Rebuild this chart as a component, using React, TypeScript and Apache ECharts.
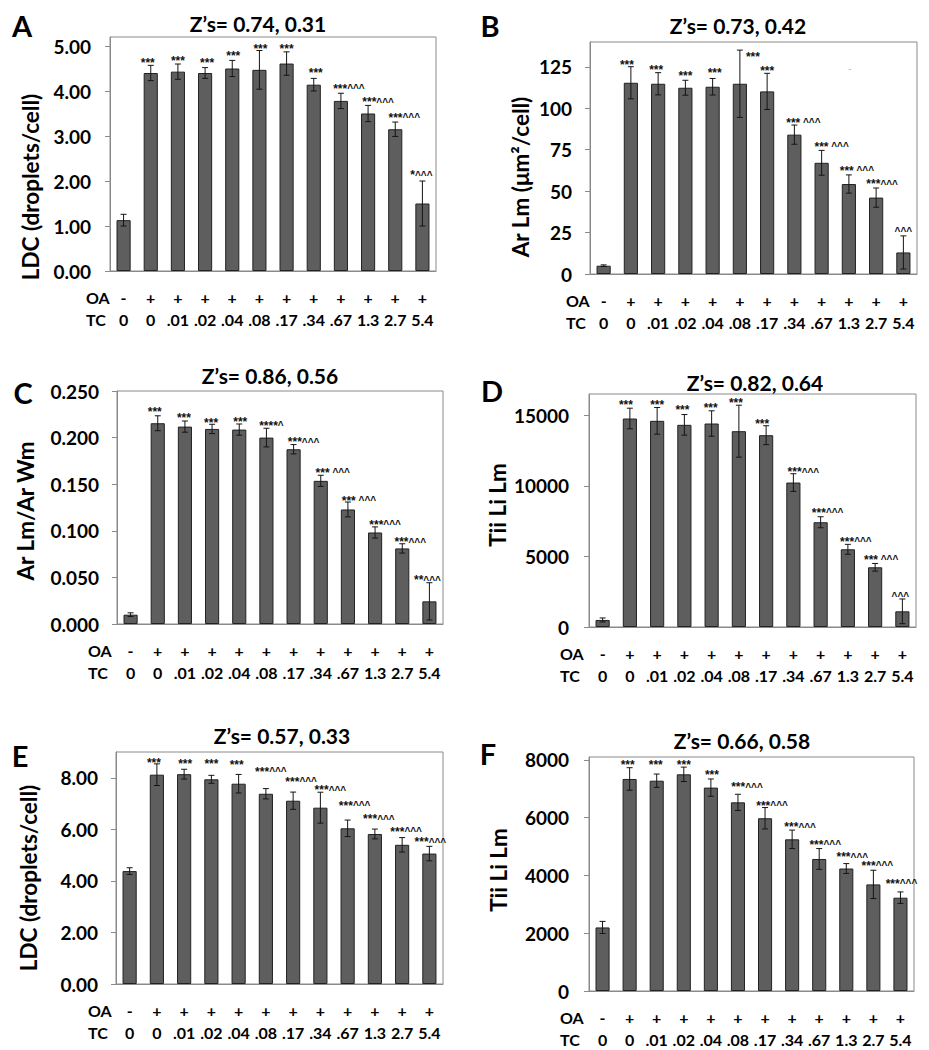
import React, { useEffect, useRef } from "react";
import * as echarts from "echarts";

// ---------- shared categories ----------
const oaRow = ["-", "+", "+", "+", "+", "+", "+", "+", "+", "+", "+", "+"];
const tcRow = ["0", "0", ".01", ".02", ".04", ".08", ".17", ".34", ".67", "1.3", "2.7", "5.4"];

// ---------- Panel A: LDC (droplets/cell) ----------
const valuesA = [1.13, 4.4, 4.43, 4.4, 4.5, 4.47, 4.61, 4.14, 3.78, 3.5, 3.15, 1.5];
const errorsA = [0.13, 0.17, 0.17, 0.12, 0.18, 0.43, 0.26, 0.14, 0.17, 0.18, 0.16, 0.5];
const sigA = ["", "***", "***", "***", "***", "***", "***", "***", "***^^^", "***^^^", "***^^^", "*^^^"];
const sigYA = [null, 4.7, 4.74, 4.68, 4.84, 5.01, 4.99, 4.46, 4.12, 3.82, 3.47, 2.19];
const ticksA = [0, 1, 2, 3, 4, 5];

// ---------- Panel B: Ar Lm ----------
const valuesB = [5.0, 115.4, 114.8, 112.4, 113.0, 114.8, 110.2, 84.1, 67.1, 54.3, 46.1, 13.0];
const errorsB = [0.5, 9.7, 6.7, 4.5, 5.0, 20.3, 10.9, 5.8, 7.5, 5.5, 5.8, 10.0];
const sigB = ["", "***", "***", "***", "***", "***", "***", "*** ^^^", "*** ^^^", "*** ^^^", "***^^^", "^^^"];
const sigYB = [null, 128.0, 125.0, 121.0, 123.0, 132.6, 124.6, 93.1, 78.5, 64.1, 55.9, 27.4];
const ticksB = [0, 25, 50, 75, 100, 125];

// ---------- Panel C: Ar Lm/Ar Wm ----------
const valuesC = [0.01, 0.2154, 0.2118, 0.2093, 0.2086, 0.2, 0.1875, 0.1536, 0.1229, 0.0982, 0.0811, 0.0243];
const errorsC = [0.002, 0.008, 0.006, 0.005, 0.006, 0.01, 0.005, 0.006, 0.008, 0.006, 0.005, 0.02];
const sigC = ["", "***", "***", "***", "***", "****^", "***^^^", "*** ^^^", "*** ^^^", "***^^^", "***^^^", "**^^^"];
const sigYC = [null, 0.2311, 0.2243, 0.2193, 0.2204, 0.2157, 0.1982, 0.1657, 0.1354, 0.1096, 0.0911, 0.05];
const ticksC = [0, 0.05, 0.1, 0.15, 0.2, 0.25];

// ---------- Panel D: Tii Li Lm ----------
const valuesD = [500, 14765, 14600, 14316, 14410, 13867, 13583, 10229, 7418, 5504, 4229, 1110];
const errorsD = [140, 730, 945, 730, 900, 1840, 670, 625, 390, 350, 270, 875];
const sigD = ["", "***", "***", "***", "***", "***", "***", "***^^^", "***^^^", "***^^^", "*** ^^^", "^^^"];
const sigYD = [null, 15946, 15946, 15544, 15710, 16064, 14600, 11174, 8316, 6260, 4961, 2362];
const ticksD = [0, 5000, 10000, 15000];

// ---------- Panel E: LDC (droplets/cell) ----------
const valuesE = [4.38, 8.12, 8.14, 7.94, 7.77, 7.38, 7.11, 6.84, 6.04, 5.82, 5.4, 5.06];
const errorsE = [0.13, 0.42, 0.19, 0.155, 0.36, 0.2, 0.335, 0.6, 0.32, 0.19, 0.28, 0.28];
const sigE = ["", "***", "***", "***", "***", "***^^^", "***^^^", "***^^^", "***^^^", "***^^^", "***^^^", "***^^^"];
const sigYE = [null, 8.7, 8.67, 8.67, 8.63, 8.35, 7.96, 7.64, 7.04, 6.51, 6.03, 5.61];
const ticksE = [0, 2, 4, 6, 8];

// ---------- Panel F: Tii Li Lm ----------
const valuesF = [2200, 7340, 7280, 7500, 7040, 6530, 5980, 5250, 4570, 4240, 3690, 3230];
const errorsF = [210, 390, 230, 250, 300, 280, 370, 320, 360, 170, 490, 200];
const sigF = ["", "***", "***", "***", "***", "***^^^", "***^^^", "***^^^", "***^^^", "***^^^", "***^^^", "***^^^"];
const sigYF = [null, 7942, 7942, 7942, 7572, 7156, 6520, 5780, 5168, 4740, 4439, 3815];
const ticksF = [0, 2000, 4000, 6000, 8000];

// ---------- layout / style (not data) ----------
const FONT = 'Lato, "Liberation Sans", Arial, sans-serif';
const SIG_FONT = '"Liberation Sans", Arial, sans-serif';
const AXIS_GREY = "#8a8a8a";

const panels = [
  {
    letter: "A", title: "Z\u2019s= 0.74, 0.31", yName: "LDC (droplets/cell)",
    values: valuesA, errors: errorsA, sigs: sigA, sigY: sigYA, ticks: ticksA, max: 5.2, decimals: 2,
    grid: { left: 110, top: 37, width: 326, height: 234 },
    letterPos: [22, 25], titlePos: [258, 23], yNamePos: [30, 187], rowX: 86, labelMargin: 19,
    sigDx: [0, -3, 0, 2, 1, 1, 0, 2, 8, 10, 9, -1],
  },
  {
    letter: "B", title: "Z\u2019s= 0.73, 0.42", yName: "Ar Lm (\u03bcm\u00b2/cell)",
    values: valuesB, errors: errorsB, sigs: sigB, sigY: sigYB, ticks: ticksB, max: 140, decimals: 0,
    grid: { left: 590, top: 42, width: 327, height: 232 },
    letterPos: [490, 25], titlePos: [738, 25], yNamePos: [520, 177], rowX: 566, labelMargin: 18,
    sigDx: [0, -4, -2, 0, 2, 13, 0, 9, 10, 8, 6, 0],
  },
  {
    letter: "C", title: "Z\u2019s= 0.86, 0.56", yName: "Ar Lm/Ar Wm",
    values: valuesC, errors: errorsC, sigs: sigC, sigY: sigYC, ticks: ticksC, max: 0.25, decimals: 3,
    grid: { left: 117, top: 391, width: 326, height: 233 },
    letterPos: [23, 392], titlePos: [270, 375], yNamePos: [25, 511], rowX: 88, labelMargin: 18,
    sigDx: [0, -3, -1, -1, 1, 5, 10, 12, 11, 10, 8, -2],
  },
  {
    letter: "D", title: "Z\u2019s= 0.82, 0.64", yName: "Tii Li Lm",
    values: valuesD, errors: errorsD, sigs: sigD, sigY: sigYD, ticks: ticksD, max: 16500, decimals: 0,
    grid: { left: 589, top: 394, width: 327, height: 233 },
    letterPos: [492, 390], titlePos: [755, 382], yNamePos: [497, 505], rowX: 560, labelMargin: 20,
    sigDx: [0, -4, 0, -2, -1, -3, -4, 10, 7, 8, 6, -2],
  },
  {
    letter: "E", title: "Z\u2019s= 0.57, 0.33", yName: "LDC (droplets/cell)",
    values: valuesE, errors: errorsE, sigs: sigE, sigY: sigYE, ticks: ticksE, max: 9, decimals: 2,
    grid: { left: 116, top: 752, width: 327, height: 232 },
    letterPos: [20, 755], titlePos: [282, 735], yNamePos: [28, 878], rowX: 88, labelMargin: 18,
    sigDx: [0, -3, 1, 0, -2, 5, 8, 10, 7, 4, 4, 1],
  },
  {
    letter: "F", title: "Z\u2019s= 0.66, 0.58", yName: "Tii Li Lm",
    values: valuesF, errors: errorsF, sigs: sigF, sigY: sigYF, ticks: ticksF, max: 8100, decimals: 0,
    grid: { left: 589, top: 757, width: 325, height: 234 },
    letterPos: [488, 753], titlePos: [742, 740], yNamePos: [498, 870], rowX: 560, labelMargin: 20,
    sigDx: [0, -2, -1, 0, 1, 9, 7, 8, 6, 6, 4, 1],
  },
];

// split a significance string into rich-text runs: stars and carets styled separately
function toRich(s: string) {
  const runs = s.match(/\*+|[^*]+/g) || [];
  return runs.map((r) => (r[0] === "*" ? `{s|${r}}` : `{c|${r}}`)).join("");
}

function buildOption() {
  const grid: any[] = [];
  const xAxis: any[] = [];
  const yAxis: any[] = [];
  const series: any[] = [];
  const graphic: any[] = [];

  panels.forEach((p, k) => {
    grid.push({ ...p.grid, show: true, borderColor: AXIS_GREY, borderWidth: 1, containLabel: false });
    xAxis.push({
      type: "category",
      gridIndex: k,
      data: tcRow,
      boundaryGap: true,
      axisLine: { show: true, lineStyle: { color: AXIS_GREY, width: 1 } },
      axisTick: { show: false },
      splitLine: { show: false },
      axisLabel: {
        interval: 0,
        margin: 15,
        formatter: (v: string, i: number) => `{a|${oaRow[i]}}\n{a|${v}}`,
        rich: {
          a: { fontFamily: FONT, fontSize: 16, fontWeight: "bold", color: "#000", lineHeight: 22, align: "center" },
        },
      },
    });
    yAxis.push({
      type: "value",
      gridIndex: k,
      min: 0,
      max: p.max,
      axisLine: { show: true, lineStyle: { color: AXIS_GREY, width: 1 } },
      axisTick: { show: true, inside: false, length: 5, lineStyle: { color: AXIS_GREY }, customValues: p.ticks },
      splitLine: { show: false },
      axisLabel: {
        customValues: p.ticks,
        margin: p.labelMargin,
        fontFamily: FONT,
        fontSize: 19,
        fontWeight: "bold",
        color: "#000",
        formatter: (v: number) => v.toFixed(p.decimals),
      },
    });

    series.push({
      type: "bar",
      xAxisIndex: k,
      yAxisIndex: k,
      data: p.values,
      barWidth: "52%",
      itemStyle: { color: "#5e5e5e", borderColor: "#222", borderWidth: 1 },
      silent: true,
    });

    const errData = p.values.map((v, i) => [i, v - p.errors[i], v + p.errors[i]]);
    series.push({
      type: "custom",
      xAxisIndex: k,
      yAxisIndex: k,
      data: errData,
      encode: { x: 0, y: [1, 2] },
      silent: true,
      z: 3,
      renderItem: (params: any, api: any) => {
        const i = api.value(0);
        const top = api.coord([i, api.value(2)]);
        const bot = api.coord([i, api.value(1)]);
        const x = top[0];
        const style = { stroke: "#151515", lineWidth: 1 };
        return {
          type: "group",
          children: [
            { type: "line", shape: { x1: x, y1: top[1], x2: x, y2: bot[1] }, style },
            { type: "line", shape: { x1: x - 3, y1: top[1], x2: x + 3, y2: top[1] }, style },
            { type: "line", shape: { x1: x - 3, y1: bot[1], x2: x + 3, y2: bot[1] }, style },
          ],
        };
      },
    });

    const sigData: any[] = [];
    p.sigs.forEach((s, i) => {
      if (s && p.sigY[i] != null) sigData.push([i, p.sigY[i], i]);
    });
    series.push({
      type: "custom",
      xAxisIndex: k,
      yAxisIndex: k,
      data: sigData,
      encode: { x: 0, y: 1 },
      silent: true,
      z: 4,
      clip: false,
      renderItem: (params: any, api: any) => {
        const idx = api.value(2);
        const pt = api.coord([api.value(0), api.value(1)]);
        return {
          type: "text",
          x: pt[0] + p.sigDx[idx],
          y: pt[1] + 3,
          style: {
            text: toRich(p.sigs[idx]),
            align: "center",
            verticalAlign: "middle",
            rich: {
              s: { fontFamily: SIG_FONT, fontSize: 12, fontWeight: "bold", fill: "#111", lineHeight: 9 },
              c: { fontFamily: SIG_FONT, fontSize: 10, fontWeight: "bold", fill: "#111", lineHeight: 9 },
            },
          },
        };
      },
    });

    // panel letter
    graphic.push({
      type: "text",
      x: p.letterPos[0],
      y: p.letterPos[1],
      style: { text: p.letter, fontFamily: FONT, fontSize: 29, fontWeight: "bold", fill: "#000", align: "center", verticalAlign: "middle" },
    });
    // title
    graphic.push({
      type: "text",
      x: p.titlePos[0],
      y: p.titlePos[1],
      style: { text: p.title, fontFamily: FONT, fontSize: 21, fontWeight: "bold", fill: "#000", align: "center", verticalAlign: "middle" },
    });
    // y axis name
    graphic.push({
      type: "text",
      x: p.yNamePos[0],
      y: p.yNamePos[1],
      rotation: Math.PI / 2,
      style: { text: p.yName, fontFamily: FONT, fontSize: 22.5, fontWeight: "bold", fill: "#000", align: "center", verticalAlign: "middle" },
    });
    // OA / TC row headers
    const axisBottom = p.grid.top + p.grid.height;
    graphic.push({
      type: "text",
      x: p.rowX,
      y: axisBottom + 26,
      style: { text: "OA", fontFamily: FONT, fontSize: 16, fontWeight: "bold", fill: "#000", align: "left", verticalAlign: "middle" },
    });
    graphic.push({
      type: "text",
      x: p.rowX,
      y: axisBottom + 48,
      style: { text: "TC", fontFamily: FONT, fontSize: 16, fontWeight: "bold", fill: "#000", align: "left", verticalAlign: "middle" },
    });
  });

  // stray mark in panel B
  graphic.push({
    type: "text",
    x: 850,
    y: 68,
    style: { text: "-", fontFamily: FONT, fontSize: 9, fill: "#aaa", align: "center", verticalAlign: "middle" },
  });

  return {
    animation: false,
    backgroundColor: "#fff",
    grid,
    xAxis,
    yAxis,
    series,
    graphic,
  };
}

export default function App() {
  const ref = useRef<HTMLDivElement>(null);
  useEffect(() => {
    if (!ref.current) return;
    const chart = echarts.init(ref.current, null, { renderer: "svg" });
    chart.setOption(buildOption() as any);
    return () => chart.dispose();
  }, []);
  return (
    <div
      ref={ref}
      style={{ position: "fixed", left: 0, top: 0, width: 929, height: 1050, background: "#fff" }}
    />
  );
}
